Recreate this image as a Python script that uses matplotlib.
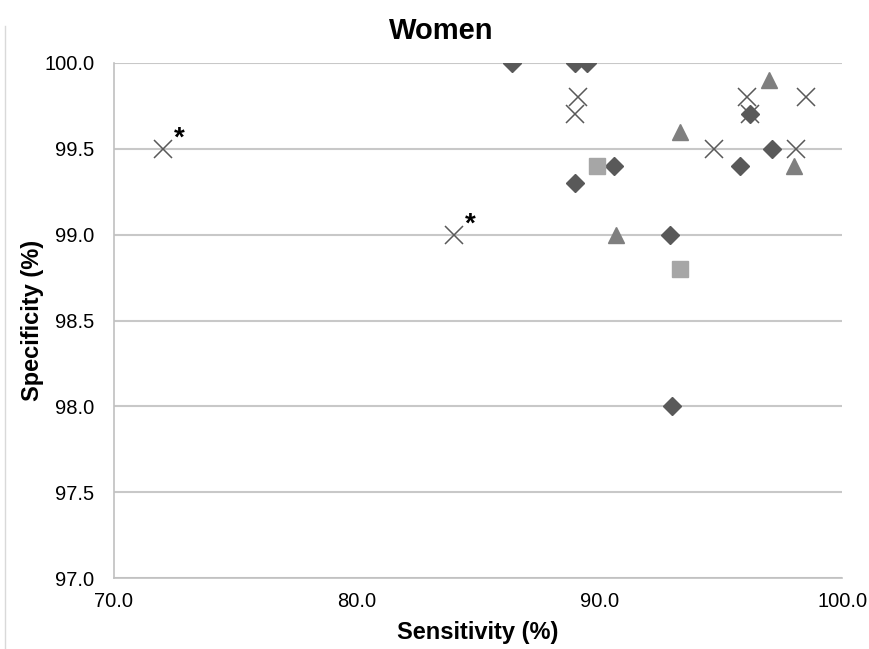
import matplotlib
matplotlib.use("Agg")
import matplotlib.pyplot as plt
from matplotlib.lines import Line2D

plt.rcParams['font.family'] = ['Liberation Sans', 'DejaVu Sans']

# Dane (czułość, swoistość)
diamond_sens = [86.4, 89.0, 89.5, 89.0, 90.6, 92.9, 93.0, 95.8, 97.1, 96.2]
diamond_spec = [100.0, 100.0, 100.0, 99.3, 99.4, 99.0, 98.0, 99.4, 99.5, 99.7]

square_sens = [89.9, 93.3]
square_spec = [99.4, 98.8]

triangle_sens = [90.7, 93.3, 97.0, 98.0]
triangle_spec = [99.0, 99.6, 99.9, 99.4]

cross_sens = [72.0, 84.0, 89.1, 89.0, 94.7, 96.1, 96.2, 98.5, 98.1]
cross_spec = [99.5, 99.0, 99.8, 99.7, 99.5, 99.8, 99.7, 99.8, 99.5]

# punkty oznaczone gwiazdką (indeksy w serii krzyżyków)
starred = [0, 1]

x_ticks = [70.0, 80.0, 90.0, 100.0]
y_ticks = [97.0, 97.5, 98.0, 98.5, 99.0, 99.5, 100.0]

fig = plt.figure(figsize=(8.7, 6.49), dpi=100)
ax = fig.add_axes([0.131, 0.109, 0.837, 0.794])

ax.plot(diamond_sens, diamond_spec, linestyle='none', marker='D', ms=9.5,
        color='#595959', zorder=3)
ax.plot(square_sens, square_spec, linestyle='none', marker='s', ms=11.5,
        color='#a6a6a6', zorder=3)
ax.plot(triangle_sens, triangle_spec, linestyle='none', marker='^', ms=12,
        color='#7f7f7f', zorder=3)
ax.plot(cross_sens, cross_spec, linestyle='none', marker='x', ms=13,
        mew=1.1, color='#595959', zorder=4)

for i in starred:
    ax.annotate('*', (cross_sens[i], cross_spec[i]), xytext=(8, -2),
                textcoords='offset points', fontsize=20, fontweight='bold',
                ha='left', va='bottom')

ax.set_xlim(70, 100)
ax.set_ylim(97, 100)
ax.set_xticks(x_ticks)
ax.set_yticks(y_ticks)
ax.set_xticklabels([f"{v:.1f}" for v in x_ticks])
ax.set_yticklabels([f"{v:.1f}" for v in y_ticks])
ax.tick_params(axis='y', length=0, labelsize=14.5, pad=14)
ax.tick_params(axis='x', length=0, labelsize=14.5, pad=10)

ax.yaxis.grid(True, color='#c8c8c8', linewidth=1.5)
ax.set_axisbelow(True)
for side in ['top', 'right']:
    ax.spines[side].set_visible(False)
for side in ['left', 'bottom']:
    ax.spines[side].set_color('#c0c0c0')
    ax.spines[side].set_linewidth(1.2)

ax.set_xlabel("Sensitivity (%)", fontsize=17, fontweight='bold', labelpad=7)
ax.set_ylabel("Specificity (%)", fontsize=17, fontweight='bold', labelpad=0)
fig.text(0.507, 0.952, "Women", fontsize=21, fontweight='bold',
         ha='center', va='center')

# cienka ramka po lewej
fig.add_artist(Line2D([0.006, 0.006], [0.0, 0.96], color='#d9d9d9', lw=1))

fig.savefig("out.png", dpi=100)
